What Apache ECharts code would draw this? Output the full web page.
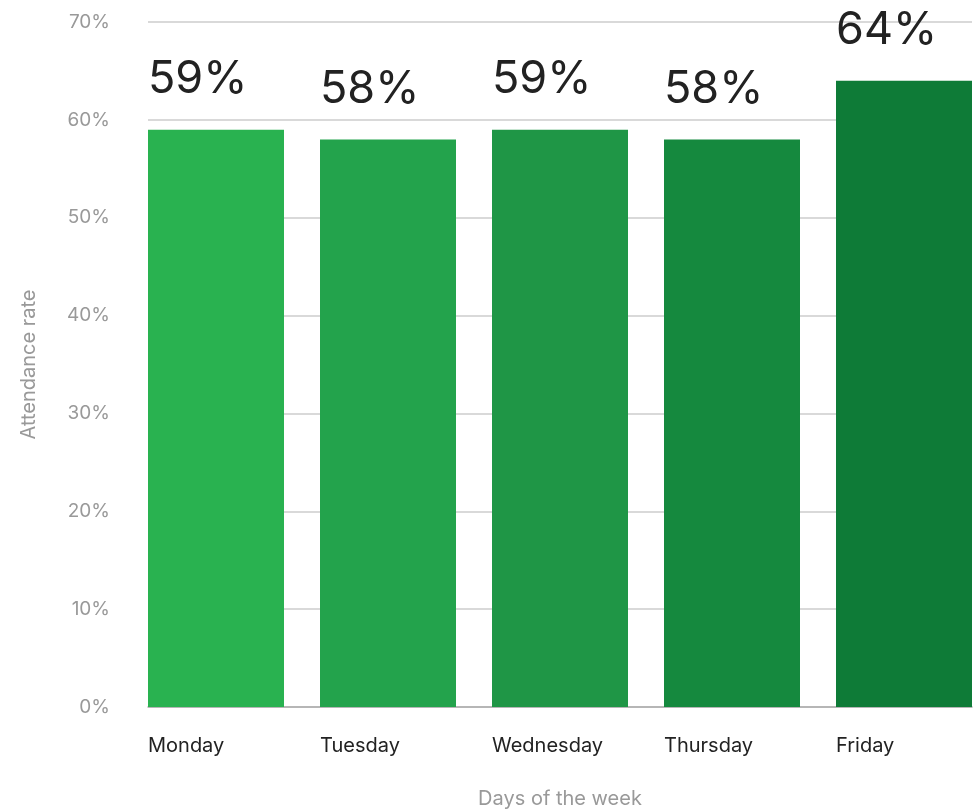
<!DOCTYPE html>
<html>
<head>
<meta charset="utf-8">
<title>Attendance rate by day</title>
<script src="https://cdn.jsdelivr.net/npm/echarts@6/dist/echarts.min.js"></script>
<style>
  html, body { margin: 0; padding: 0; background: #fff; }
  #main { width: 977px; height: 811px; }
</style>
</head>
<body>
<div id="main"></div>
<script>
// data
var days = ['Monday', 'Tuesday', 'Wednesday', 'Thursday', 'Friday'];
var attendance = [59, 58, 59, 58, 64];
var yTicks = [0, 10, 20, 30, 40, 50, 60, 70];

// one green per bar, light to dark
var barColors = ['#29b250', '#23a34c', '#1f9646', '#15893e', '#0e7b37'];

var FONT = 'Inter, "Noto Sans", sans-serif';

var chart = echarts.init(document.getElementById('main'), null, { renderer: 'canvas' });

var option = {
  backgroundColor: '#fff',
  animation: false,
  grid: [
    // grid 0: gridlines + y labels
    { left: 148, right: 5, top: 22, bottom: 104, outerBoundsMode: 'none' },
    // grid 1: bars, wider so bars sit flush with gridline ends
    { left: 130, width: 860, top: 22, bottom: 104, outerBoundsMode: 'none' }
  ],
  xAxis: [{
    gridIndex: 0,
    type: 'value',
    min: 0,
    max: 1,
    axisLine: { show: true, lineStyle: { color: '#aaaaaa', width: 1.5 } },
    axisTick: { show: false },
    axisLabel: { show: false },
    splitLine: { show: false }
  }, {
    gridIndex: 1,
    type: 'category',
    data: days,
    boundaryGap: true,
    axisLine: { show: false },
    axisTick: { show: false },
    axisLabel: {
      margin: 29,
      formatter: '{a|{value}}',
      rich: {
        a: { width: 136, align: 'left', color: '#222', fontSize: 20, fontFamily: FONT }
      }
    },
    name: 'Days of the week',
    nameLocation: 'middle',
    nameGap: 82,
    nameTextStyle: { color: '#999', fontSize: 20, fontFamily: FONT }
  }],
  yAxis: [{
    gridIndex: 0,
    type: 'value',
    min: yTicks[0],
    max: yTicks[yTicks.length - 1],
    interval: 10,
    axisLine: { show: false },
    axisTick: { show: false },
    axisLabel: {
      margin: 38,
      color: '#999',
      fontSize: 19,
      fontFamily: FONT,
      formatter: '{value}%'
    },
    splitLine: { lineStyle: { color: '#cccccc', width: 1.5 } },
    name: 'Attendance rate',
    nameLocation: 'middle',
    nameGap: 109,
    nameRotate: 90,
    nameTextStyle: { color: '#999', fontSize: 20, fontFamily: FONT }
  }, {
    gridIndex: 1,
    type: 'value',
    min: yTicks[0],
    max: yTicks[yTicks.length - 1],
    interval: 10,
    show: false
  }],
  series: [{
    type: 'bar',
    xAxisIndex: 1,
    yAxisIndex: 1,
    barWidth: 136,
    data: attendance.map(function (v, i) {
      return { value: v, itemStyle: { color: barColors[i] } };
    }),
    label: {
      show: true,
      position: [0, -27],
      align: 'left',
      verticalAlign: 'bottom',
      lineHeight: 46,
      fontSize: 45,
      color: '#222',
      fontFamily: FONT,
      formatter: '{c}%'
    }
  }]
};

chart.setOption(option);
</script>
</body>
</html>
